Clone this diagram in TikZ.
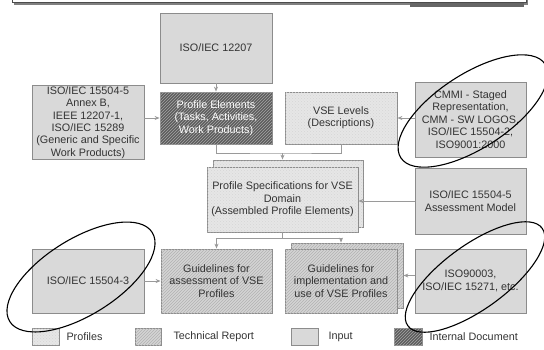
\documentclass[tikz,border=0pt]{standalone}
\usepackage{fontspec}
\setmainfont{Liberation Sans}
\usetikzlibrary{patterns,arrows.meta}
\definecolor{boxline}{HTML}{8C8C8C}
\definecolor{inputgray}{HTML}{D9D9D9}
\definecolor{profgray}{HTML}{E6E6E6}
\definecolor{trgray}{HTML}{D4D4D4}
\definecolor{intgray}{HTML}{5C5C5C}
\definecolor{txtgray}{HTML}{333333}
\definecolor{linkgray}{HTML}{9A9A9A}
\tikzset{
  box/.style={draw=boxline,line width=0.8pt,inner sep=1pt,align=center,text=txtgray,
    font=\fontsize{10.8}{12.4}\selectfont},
  inputbox/.style={box,fill=inputgray},
  profbox/.style={box,fill=profgray,postaction={pattern=crosshatch dots,pattern color=black!16}},
  trbox/.style={box,fill=trgray,postaction={pattern=north east lines,pattern color=black!30}},
  intbox/.style={box,fill=intgray,text=white,postaction={pattern=north east lines,pattern color=black!35}},
  link/.style={draw=linkgray,line width=0.8pt},
  legtext/.style={anchor=west,text=txtgray,font=\fontsize{10.8}{12.4}\selectfont},
  oval/.style={line width=1.1pt}
}
\begin{document}
\begin{tikzpicture}[x=1pt,y=-1pt,>={Stealth[length=5pt,width=4pt]}]
  \useasboundingbox (0,0) rectangle (544,349);
  \clip (0,0) rectangle (544,349);
  % frame at the top edge
  \fill[black!50] (14,-10) rectangle (528,4.5);
  \fill[black!60] (410,-10) rectangle (524,6.5);
  \draw[draw=black!70,fill=white,line width=0.8pt] (12,-12) rectangle (526,2);
  % top row
  \node[inputbox,minimum width=112pt,minimum height=70pt] (iso12207) at (216,48) {ISO/IEC 12207};
  \node[inputbox,minimum width=112pt,minimum height=73pt] (annexb) at (88,122.5)
    {ISO/IEC 15504-5\\Annex B,\\IEEE 12207-1,\\ISO/IEC 15289\\(Generic and Specific\\Work Products)};
  \node[intbox,minimum width=112pt,minimum height=52pt] (elements) at (216,118)
    {Profile Elements\\(Tasks, Activities,\\Work Products)};
  \node[profbox,minimum width=112pt,minimum height=52pt] (levels) at (341,118)
    {VSE Levels\\(Descriptions)};
  \node[inputbox,minimum width=111pt,minimum height=75pt] (cmmi) at (470.5,119.5)
    {CMMI - Staged\\Representation,\\CMM - SW LOGOS,\\ISO/IEC 15504-2,\\ISO9001:2000};
  % middle row
  \node[profbox,minimum width=150pt,minimum height=67pt] (specback) at (288,193.5) {};
  \node[profbox,minimum width=151pt,minimum height=65pt] (spec) at (282.5,199.5)
    {Profile Specifications for VSE\\Domain\\(Assembled Profile Elements)};
  \node[inputbox,minimum width=111pt,minimum height=66pt] (assess) at (470.5,201)
    {ISO/IEC 15504-5\\Assessment Model};
  % bottom row
  \node[inputbox,minimum width=112pt,minimum height=64pt] (part3) at (88,281) {ISO/IEC 15504-3};
  \node[trbox,minimum width=111pt,minimum height=64pt] (gassess) at (216.5,281)
    {Guidelines for\\assessment of VSE\\Profiles};
  \node[trbox,minimum width=112pt,minimum height=65pt] (gimplback) at (347,275.5) {};
  \node[trbox,minimum width=112pt,minimum height=64pt] (gimpl) at (341,281)
    {Guidelines for\\implementation and\\use of VSE Profiles};
  \node[inputbox,minimum width=111pt,minimum height=64pt] (iso90003) at (470.5,281)
    {ISO90003,\\ISO/IEC 15271, etc.};
  % connectors
  \coordinate (jup) at (282.5,153);
  \coordinate (jdown) at (282.5,238);
  \draw[link,->] (iso12207.south) -- (elements.north);
  \draw[link,->] (annexb.east |- elements.west) -- (elements.west);
  \draw[link,->] (cmmi.west |- levels.east) -- (levels.east);
  \draw[link] (elements.south) |- (jup) -| (levels.south);
  \draw[link,->] (jup) -- (jup |- specback.north);
  \draw[link,->] (assess.west) -- (assess.west -| spec.east);
  \draw[link] (spec.south) -- (jdown);
  \draw[link,->] (jdown) -| (gassess.north);
  \draw[link,->] (jdown) -| (gimpl.north |- gimplback.north);
  \draw[link,->] (part3.east) -- (gassess.west);
  \draw[link,->] (iso90003.west |- gimplback.east) -- (gimplback.east);
  % legend
  \node[profbox,minimum width=27pt,minimum height=17pt] (legprof) at (45.5,336.5) {};
  \node[legtext] (legproftext) at (63,336.5) {Profiles};
  \node[trbox,minimum width=26pt,minimum height=17pt] (legtr) at (148,336.5) {};
  \node[legtext] (legtrtext) at (170,336.5) {Technical Report};
  \node[inputbox,minimum width=27pt,minimum height=17pt] (leginput) at (304.5,336.5) {};
  \node[legtext] (leginputtext) at (325,336.5) {Input};
  \node[intbox,minimum width=28pt,minimum height=17pt] (legint) at (408,336.5) {};
  \node[legtext] (leginttext) at (426,336.5) {Internal Document};
  % hand drawn marks
  \draw[oval,rotate around={33:(473,111)}] (473,111) ellipse (86 and 37);
  \draw[oval,rotate around={32:(81,277)}] (81,277) ellipse (84 and 38);
  \draw[oval,rotate around={36:(475,277)}] (475,277) ellipse (83 and 32);
\end{tikzpicture}
\end{document}
